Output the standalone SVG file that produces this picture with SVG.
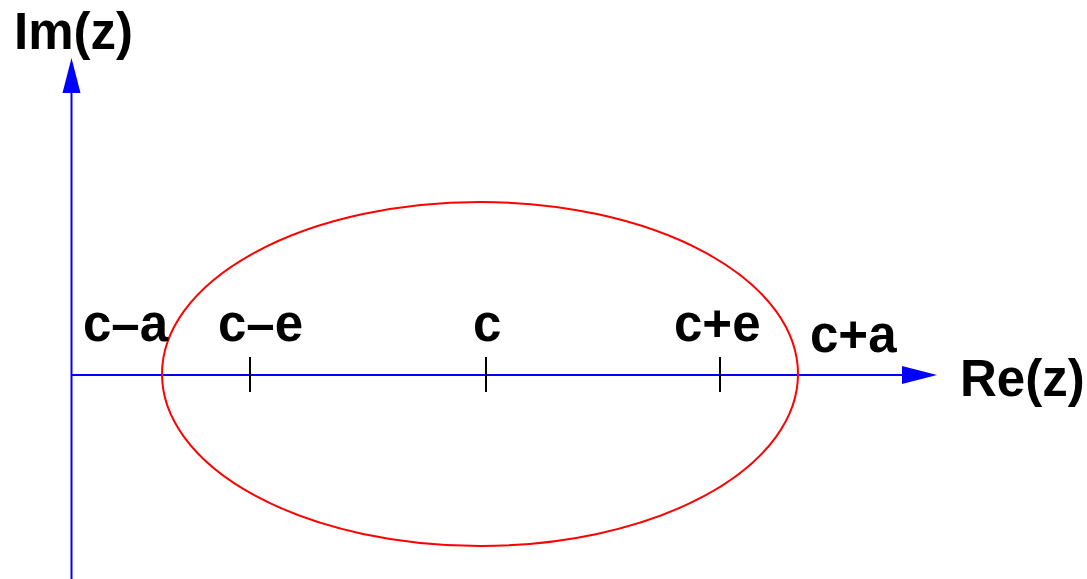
<svg xmlns="http://www.w3.org/2000/svg" width="1087" height="579" viewBox="0 0 1087 579">
<style>
.lbl{font-family:"Liberation Sans",Arial,sans-serif;font-weight:bold;font-size:51px;fill:#000}
.axis{stroke:#0000ff;stroke-width:2;fill:none}
.tick{stroke:#000;stroke-width:2}
</style>
<rect width="1087" height="579" fill="#fff"/>
<g id="connectors">
<line class="axis" x1="71.5" y1="579" x2="71.5" y2="90"/>
<polygon points="71.5,58 62.5,93 80.5,93" fill="#0000ff"/>
<line class="axis" x1="71.5" y1="375" x2="905" y2="375"/>
<polygon points="937,375 902,366 902,384" fill="#0000ff"/>
</g>
<g id="ellipse">
<ellipse cx="480" cy="374" rx="318" ry="172" fill="none" stroke="#ff0000" stroke-width="2"/>
</g>
<g id="ticks">
<line class="tick" x1="250" y1="357" x2="250" y2="392"/>
<line class="tick" x1="486" y1="357" x2="486" y2="392"/>
<line class="tick" x1="720" y1="357" x2="720" y2="392"/>
</g>
<g id="label-im"><text class="lbl" x="14" y="49">Im(z)</text></g>
<g id="label-re"><text class="lbl" x="960" y="396">Re(z)</text></g>
<g id="label-ca"><text class="lbl" x="83" y="341">c–a</text></g>
<g id="label-ce"><text class="lbl" x="218" y="341">c–e</text></g>
<g id="label-c"><text class="lbl" x="473" y="341">c</text></g>
<g id="label-cpe"><text class="lbl" x="674" y="341">c+e</text></g>
<g id="label-cpa"><text class="lbl" x="810" y="352">c+a</text></g>
</svg>
